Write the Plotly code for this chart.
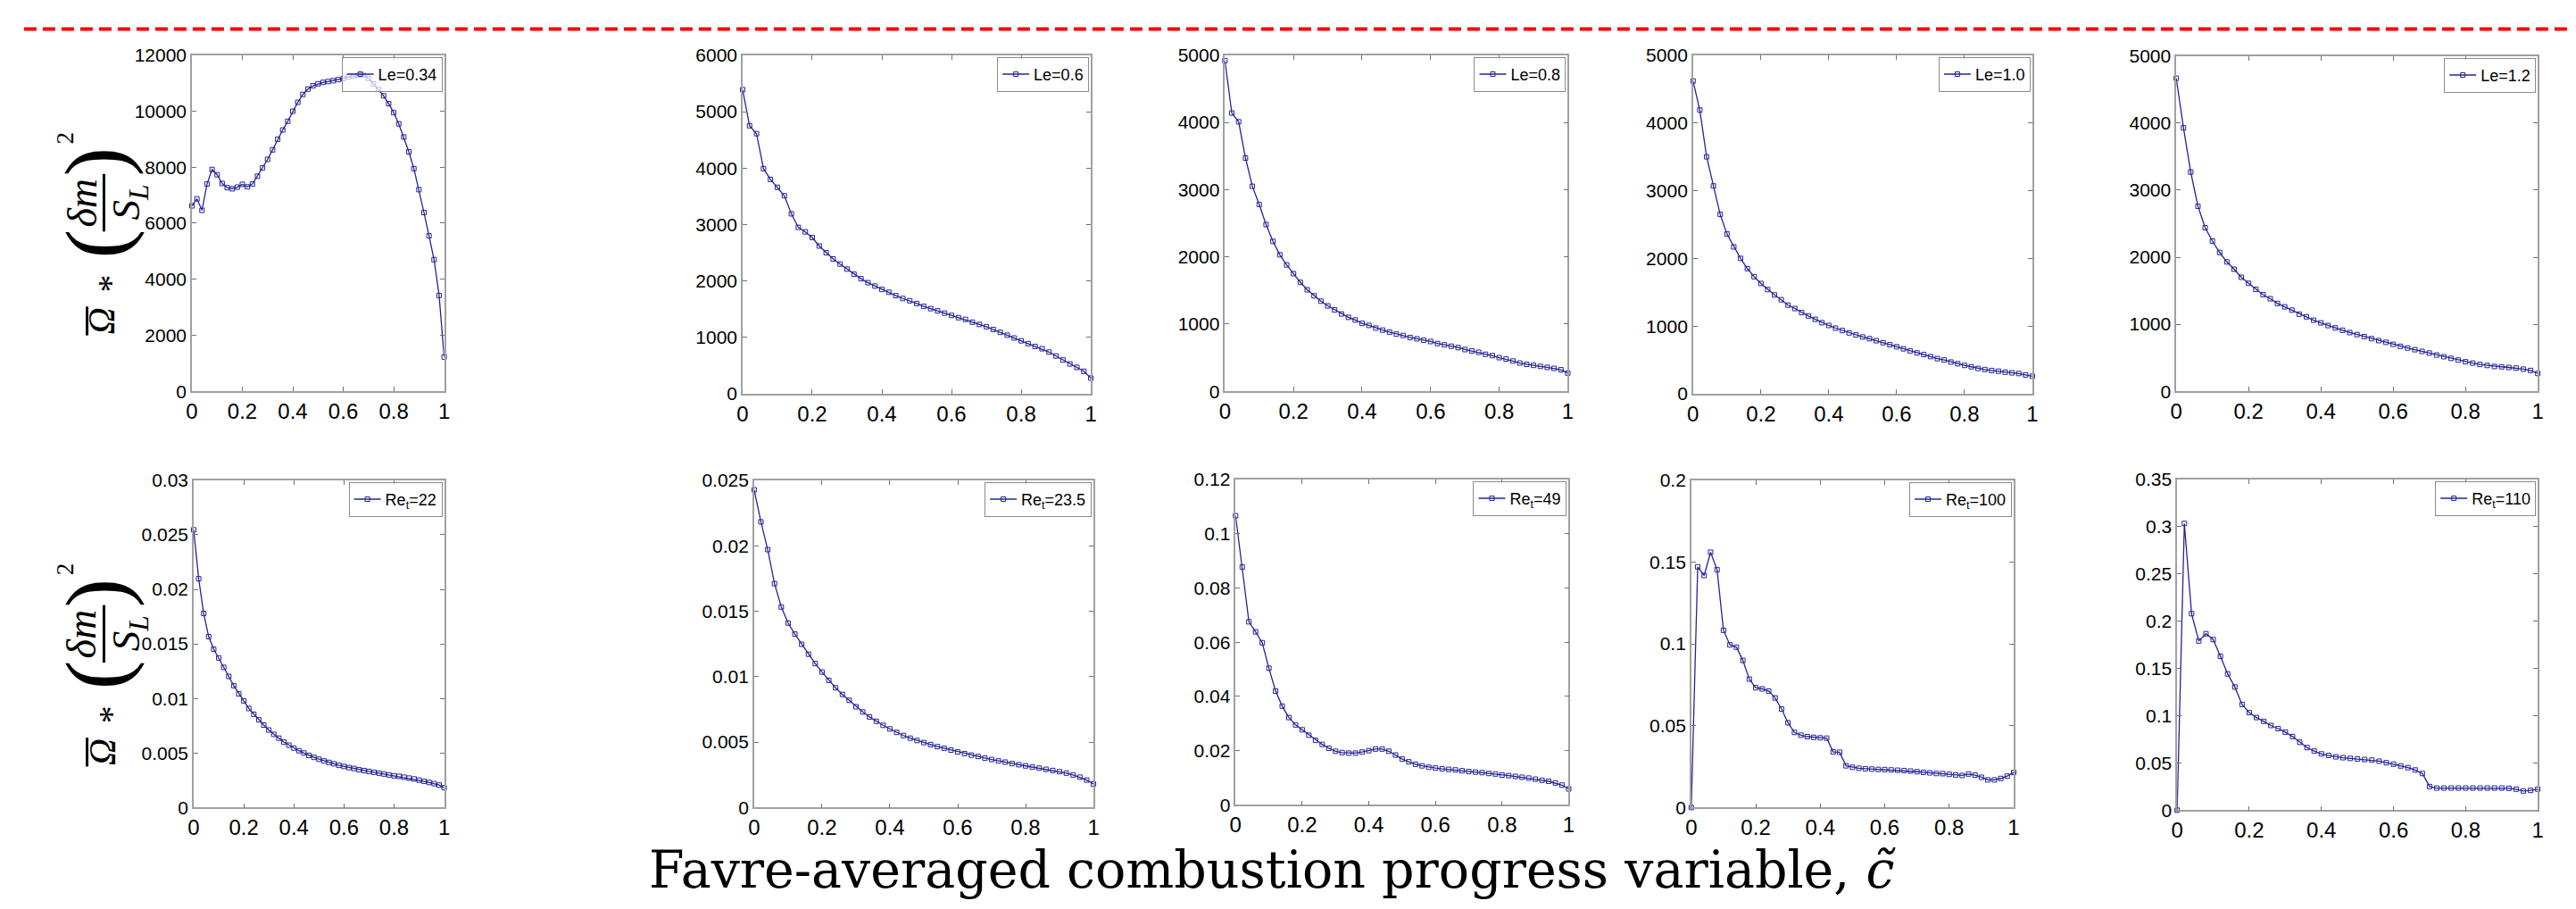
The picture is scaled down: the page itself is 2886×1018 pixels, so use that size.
import plotly.graph_objects as go

W, H = 2886, 1018

# ---------------- data ----------------
c_tilde = [0.00, 0.02, 0.04, 0.06, 0.08, 0.10, 0.12, 0.14, 0.16, 0.18,
           0.20, 0.22, 0.24, 0.26, 0.28, 0.30, 0.32, 0.34, 0.36, 0.38,
           0.40, 0.42, 0.44, 0.46, 0.48, 0.50, 0.52, 0.54, 0.56, 0.58,
           0.60, 0.62, 0.64, 0.66, 0.68, 0.70, 0.72, 0.74, 0.76, 0.78,
           0.80, 0.82, 0.84, 0.86, 0.88, 0.90, 0.92, 0.94, 0.96, 0.98, 1.00]

le_034 = [6620, 6870, 6460, 7400, 7920, 7730, 7420, 7270, 7230, 7290,
          7390, 7300, 7400, 7680, 7980, 8280, 8620, 9000, 9330, 9640,
          10000, 10320, 10600, 10790, 10910, 10980, 11030, 11060, 11090, 11130,
          11170, 11220, 11260, 11290, 11300, 11170, 10980, 10780, 10550, 10270,
          9950, 9550, 9080, 8550, 7950, 7200, 6380, 5550, 4700, 3420, 1220]

le_06 = [5390, 4750, 4610, 3990, 3800, 3660, 3510, 3190, 2950, 2870,
         2770, 2620, 2500, 2390, 2300, 2210, 2120, 2040, 1970, 1910,
         1850, 1800, 1740, 1690, 1650, 1600, 1550, 1510, 1470, 1430,
         1390, 1350, 1320, 1270, 1230, 1190, 1140, 1090, 1040, 990,
         940, 890, 840, 800, 740, 670, 600, 530, 470, 400, 280]

le_08 = [4920, 4140, 4010, 3470, 3050, 2780, 2480, 2230, 2030, 1880,
         1750, 1620, 1510, 1420, 1340, 1270, 1210, 1150, 1100, 1060,
         1010, 980, 940, 910, 880, 850, 830, 800, 780, 760,
         740, 710, 690, 670, 650, 620, 600, 580, 550, 530,
         500, 480, 450, 420, 400, 385, 370, 355, 340, 320, 270]

le_10 = [4620, 4190, 3500, 3070, 2650, 2360, 2170, 2000, 1850, 1730,
         1630, 1540, 1460, 1390, 1310, 1260, 1200, 1150, 1100, 1050,
         1010, 970, 935, 900, 870, 840, 815, 785, 755, 725,
         695, 665, 635, 605, 580, 550, 520, 500, 470, 445,
         420, 400, 375, 360, 345, 335, 320, 310, 300, 280, 260]

le_12 = [4670, 3930, 3270, 2760, 2440, 2240, 2070, 1930, 1820, 1700,
         1610, 1520, 1440, 1380, 1310, 1260, 1210, 1150, 1110, 1060,
         1020, 980, 945, 910, 875, 845, 815, 785, 755, 730,
         700, 670, 645, 620, 595, 570, 540, 515, 490, 465,
         440, 420, 400, 385, 370, 365, 355, 345, 330, 310, 265]

re_22 = [0.02546, 0.02097, 0.01779, 0.01566, 0.01451, 0.01371, 0.01285, 0.01202, 0.01117, 0.01042,
         0.00978, 0.00908, 0.00855, 0.00804, 0.00756, 0.00711, 0.00671, 0.00636, 0.00601, 0.00572,
         0.00545, 0.00521, 0.00500, 0.00478, 0.00460, 0.00443, 0.00427, 0.00414, 0.00401, 0.00387,
         0.00377, 0.00366, 0.00358, 0.00347, 0.00339, 0.00331, 0.00323, 0.00315, 0.00307, 0.00299,
         0.00291, 0.00286, 0.00278, 0.00270, 0.00262, 0.00251, 0.00240, 0.00230, 0.00219, 0.00206, 0.00182]

re_235 = [0.02427, 0.02182, 0.01970, 0.01710, 0.01532, 0.01409, 0.01325, 0.01247, 0.01171, 0.01100,
          0.01035, 0.00971, 0.00915, 0.00864, 0.00819, 0.00770, 0.00730, 0.00692, 0.00659, 0.00628,
          0.00601, 0.00574, 0.00550, 0.00530, 0.00512, 0.00496, 0.00481, 0.00465, 0.00452, 0.00439,
          0.00425, 0.00412, 0.00401, 0.00390, 0.00378, 0.00367, 0.00356, 0.00347, 0.00336, 0.00327,
          0.00318, 0.00309, 0.00301, 0.00292, 0.00283, 0.00274, 0.00263, 0.00249, 0.00232, 0.00210, 0.00180]

re_49 = [0.1066, 0.0877, 0.0675, 0.0638, 0.0598, 0.0504, 0.0420, 0.0364, 0.0322, 0.0295,
         0.0277, 0.0257, 0.0238, 0.0223, 0.0209, 0.0198, 0.0193, 0.0191, 0.0191, 0.0195,
         0.0200, 0.0206, 0.0206, 0.0198, 0.0184, 0.0169, 0.0159, 0.0150, 0.0144, 0.0139,
         0.0136, 0.0133, 0.0131, 0.0129, 0.0126, 0.0123, 0.0121, 0.0119, 0.0116, 0.0114,
         0.0110, 0.0108, 0.0105, 0.0102, 0.0099, 0.0095, 0.0091, 0.0087, 0.0081, 0.0073, 0.0059]

re_100 = [0.0000, 0.1471, 0.1418, 0.1560, 0.1453, 0.1083, 0.0994, 0.0980, 0.0899, 0.0785,
          0.0732, 0.0725, 0.0712, 0.0670, 0.0602, 0.0518, 0.0459, 0.0442, 0.0433, 0.0429,
          0.0426, 0.0424, 0.0340, 0.0338, 0.0255, 0.0246, 0.0240, 0.0237, 0.0235, 0.0233,
          0.0232, 0.0230, 0.0228, 0.0226, 0.0223, 0.0219, 0.0215, 0.0212, 0.0208, 0.0207,
          0.0203, 0.0199, 0.0196, 0.0205, 0.0198, 0.0185, 0.0169, 0.0169, 0.0178, 0.0192, 0.0214]

re_110 = [0.0000, 0.3034, 0.2079, 0.1790, 0.1867, 0.1805, 0.1627, 0.1442, 0.1303, 0.1118,
          0.1032, 0.0980, 0.0940, 0.0896, 0.0863, 0.0826, 0.0779, 0.0718, 0.0662, 0.0625,
          0.0595, 0.0579, 0.0564, 0.0555, 0.0548, 0.0542, 0.0536, 0.0530, 0.0518, 0.0502,
          0.0487, 0.0468, 0.0450, 0.0425, 0.0388, 0.0250, 0.0234, 0.0234, 0.0234, 0.0234,
          0.0234, 0.0234, 0.0234, 0.0234, 0.0234, 0.0234, 0.0231, 0.0222, 0.0203, 0.0209, 0.0222]

legend_names = ["Le=0.34", "Le=0.6", "Le=0.8", "Le=1.0", "Le=1.2",
                "Re<sub>t</sub>=22", "Re<sub>t</sub>=23.5", "Re<sub>t</sub>=49",
                "Re<sub>t</sub>=100", "Re<sub>t</sub>=110"]
series = [le_034, le_06, le_08, le_10, le_12, re_22, re_235, re_49, re_100, re_110]
y_ranges = [[0, 12000], [0, 6000], [0, 5000], [0, 5000], [0, 5000],
            [0, 0.03], [0, 0.025], [0, 0.12], [0, 0.2], [0, 0.35]]
y_dticks = [2000, 1000, 1000, 1000, 1000, 0.005, 0.005, 0.02, 0.05, 0.05]
x_tick_vals = [0, 0.2, 0.4, 0.6, 0.8, 1]

# plot-area boxes in pixels (left, top, right, bottom)
boxes = [(209, 51, 493, 436), (829, 51, 1221, 439), (1372, 51, 1758, 436),
         (1899, 51, 2281, 439), (2443, 52, 2850, 436),
         (211, 538, 493, 913), (842, 538, 1224, 913), (1384, 537, 1759, 910),
         (1897, 538, 2260, 913), (2444, 537, 2850, 916)]

LINE = "rgb(36,36,150)"
NARROW = "Liberation Sans Narrow, Arial Narrow, Liberation Sans, sans-serif"
SERIF = "Liberation Serif, DejaVu Serif, serif"


def px(x):
    return x / W


def py(y):
    return 1 - y / H


fig = go.Figure()
layout = dict(width=W, height=H, autosize=False,
              margin=dict(l=0, r=0, t=0, b=0),
              paper_bgcolor="white", plot_bgcolor="white",
              showlegend=True)

for i, (name, ys) in enumerate(zip(legend_names, series)):
    k = "" if i == 0 else str(i + 1)
    l, t, r, b = boxes[i]
    fig.add_trace(go.Scatter(
        x=c_tilde, y=ys, mode="lines+markers", name=name,
        xaxis="x" + k, yaxis="y" + k, legend="legend" + k,
        line=dict(color=LINE, width=1.3),
        marker=dict(symbol="square-open", size=5, color=LINE,
                    line=dict(width=1, color=LINE)),
        cliponaxis=False, showlegend=True))
    common = dict(showline=True, linecolor="#a0a0a0", linewidth=1.5,
                  mirror="allticks", ticks="inside", ticklen=5,
                  tickcolor="#707070", tickwidth=1, showgrid=False,
                  zeroline=False, exponentformat="none")
    layout["xaxis" + k] = dict(common, domain=[px(l), px(r)], anchor="y" + k,
                               range=[0, 1], tickvals=x_tick_vals,
                               tickfont=dict(family=NARROW, size=24, color="black"))
    yax = dict(common, domain=[py(b), py(t)], anchor="x" + k,
               range=y_ranges[i], dtick=y_dticks[i], tick0=0,
               tickfont=dict(family=NARROW, size=21, color="black"))
    if i < 5:
        yax["tickformat"] = "d"
    layout["yaxis" + k] = yax
    layout["legend" + k] = dict(x=px(r - 2), y=py(t + 2), xanchor="right",
                                yanchor="top", bgcolor="rgba(255,255,255,0.7)",
                                bordercolor="#8a8a8a", borderwidth=1,
                                font=dict(family=NARROW, size=18, color="black"),
                                itemwidth=30, tracegroupgap=0)

annotations = []
shapes = []

# dashed red separator line at the top
shapes.append(dict(type="line", xref="paper", yref="paper",
                   x0=px(20), x1=1, y0=py(21), y1=py(21),
                   line=dict(color="#ff0000", width=4, dash="14px,7px")))


def add_ylabel(dy):
    def ann(text, x, y, size):
        annotations.append(dict(text=text, x=px(x), y=py(y + dy), xref="paper",
                                yref="paper", showarrow=False, textangle=-90,
                                xanchor="center", yanchor="middle",
                                font=dict(family=SERIF, size=size, color="black")))
    ann("<i>Ω</i>", 108, 355, 42)
    ann("*", 118, 312, 40)
    ann("(", 101, 267, 98)
    ann(")", 101, 173, 98)
    ann("<i>δm</i>", 85, 220, 46)
    ann("<i>S<sub>L</sub></i>", 138, 219, 45)
    ann("2", 66, 146, 27)
    shapes.append(dict(type="line", xref="paper", yref="paper",
                       x0=px(91), x1=px(91), y0=py(339 + dy), y1=py(372 + dy),
                       line=dict(color="black", width=3)))
    shapes.append(dict(type="line", xref="paper", yref="paper",
                       x0=px(110), x1=px(110), y0=py(187 + dy), y1=py(253 + dy),
                       line=dict(color="black", width=3)))


add_ylabel(0)
add_ylabel(494)

annotations.append(dict(text="Favre-averaged combustion progress variable, <i>c̃</i>",
                        x=px(1425), y=py(984), xref="paper", yref="paper",
                        showarrow=False, xanchor="center", yanchor="middle",
                        font=dict(family="DejaVu Serif, serif", size=57, color="black")))

layout["annotations"] = annotations
layout["shapes"] = shapes
fig.update_layout(**layout)

fig.write_html("out.html",
               config={"displayModeBar": False},
               post_script="document.body.style.margin='0px';"
                           "document.body.style.overflow='hidden';")
